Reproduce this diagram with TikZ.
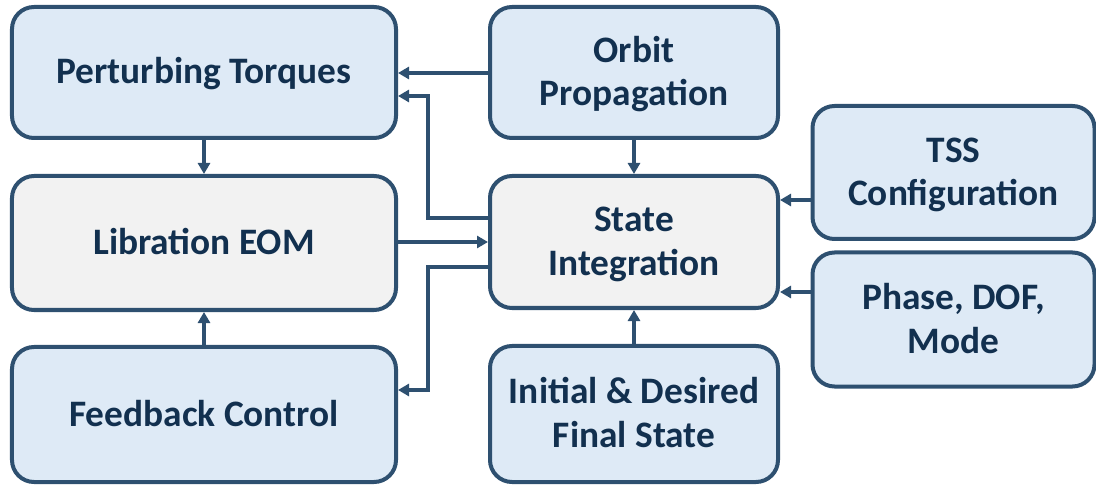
\documentclass[tikz,border=0pt]{standalone}
\usepackage{fontspec}
\setmainfont{Carlito}
\usetikzlibrary{arrows.meta}
\definecolor{edge}{HTML}{2E5070}
\definecolor{blueFill}{HTML}{DEEAF6}
\definecolor{greyFill}{HTML}{F2F2F2}
\definecolor{ink}{HTML}{12304F}
\tikzset{
  blk/.style={draw=edge, line width=4bp, rounded corners=22bp, text=ink,
    font=\fontsize{37.5}{44}\selectfont\bfseries, align=center, inner sep=0pt,
    text height=23bp, text depth=0pt},
  twolines/.style={text height=67bp},
  bluebox/.style={blk, fill=blueFill},
  greybox/.style={blk, fill=greyFill},
  link/.style={draw=edge, line width=3.5bp, -{Triangle[length=11bp,width=12bp]}}
}
\begin{document}
\begin{tikzpicture}[x=1bp,y=-1bp]
\useasboundingbox (0,0) rectangle (1096,487);
% left column
\node[bluebox, minimum width=384bp, minimum height=131bp] (pert) at (204,72.5) {Perturbing Torques};
\node[greybox, minimum width=384bp, minimum height=134bp] (lib) at (204,243) {Libration EOM};
\node[bluebox, minimum width=384bp, minimum height=135bp] (fb) at (204,414.5) {Feedback Control};
% middle column
\node[bluebox, twolines, minimum width=288bp, minimum height=131bp] (orb) at (634,72.5) {Orbit\\Propagation};
\node[greybox, twolines, minimum width=288bp, minimum height=132bp] (st) at (634,242) {State\\Integration};
\node[bluebox, twolines, minimum width=288bp, minimum height=136bp] (init) at (634,414) {Initial \& Desired\\Final State};
% right column
\node[bluebox, twolines, minimum width=282bp, minimum height=133bp] (tss) at (953.5,172.5) {TSS\\Configuration};
\node[bluebox, twolines, minimum width=282bp, minimum height=134bp] (phase) at (953.5,319.5) {Phase, DOF,\\Mode};
% connectors
\coordinate (kneeA) at (428,218);
\coordinate (kneeB) at (428,267);
\draw[link] (orb.west |- 0,73) -- (pert.east |- 0,73);
\draw[link] (st.west |- kneeA) -- (kneeA) |- (pert.east |- 0,96);
\draw[link] (lib.east |- 0,242) -- (st.west |- 0,242);
\draw[link] (st.west |- kneeB) -- (kneeB) |- (fb.east |- 0,390);
\draw[link] (pert.south) -- (lib.north);
\draw[link] (fb.north) -- (lib.south);
\draw[link] (orb.south) -- (st.north);
\draw[link] (init.north) -- (st.south);
\draw[link] (tss.west |- 0,200) -- (st.east |- 0,200);
\draw[link] (phase.west |- 0,292) -- (st.east |- 0,292);
\end{tikzpicture}
\end{document}
